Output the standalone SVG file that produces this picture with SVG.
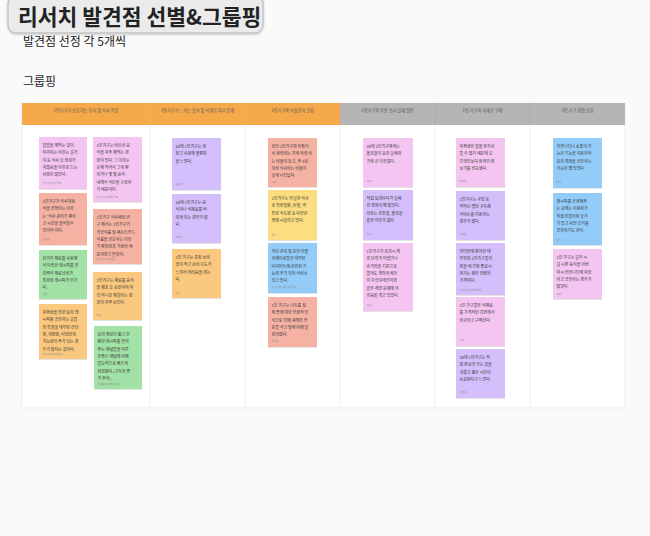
<svg xmlns="http://www.w3.org/2000/svg" width="650" height="536" viewBox="0 0 650 536">
<defs>
<filter id="sh" x="-10%" y="-10%" width="130%" height="130%"><feDropShadow dx="0" dy="0.6" stdDeviation="0.7" flood-color="#000" flood-opacity="0.18"/></filter>
<filter id="tsh" x="-5%" y="-20%" width="110%" height="150%"><feDropShadow dx="0" dy="1" stdDeviation="1.2" flood-color="#000" flood-opacity="0.2"/></filter>
<style>
text{font-family:"Noto Sans CJK KR","Noto Sans",sans-serif;}
.t{font-size:4px;fill:#333;}
.lb{font-size:2.6px;fill:#8a8a8a;}
.hd{font-size:4.2px;fill:#555;text-anchor:middle;}
.pink{fill:#f4c5f0;}
.salmon{fill:#f5b2a3;}
.green{fill:#a2e2a6;}
.orange{fill:#fac87f;}
.purple{fill:#d4befb;}
.yellow{fill:#fcdd80;}
.blue{fill:#94ccf9;}
.n rect{filter:url(#sh);}
</style>
</defs>
<rect x="0" y="0" width="650" height="536" fill="#fafafa"/>
<g id="title">
<rect x="8" y="-4" width="255" height="37" rx="8" fill="#ebebeb" stroke="#c4c4c4" stroke-width="1.5" filter="url(#tsh)"/>
<text x="18" y="25" font-size="21.5" font-weight="bold" fill="#222">리서치 발견점 선별&amp;그룹핑</text>
</g>
<text x="23" y="46" font-size="12" fill="#222">발견점 선정 각 5개씩</text>
<text x="23" y="86" font-size="12" fill="#222">그룹핑</text>

<g id="board">
<rect x="22" y="103" width="603" height="305" fill="#fff" stroke="#ececec" stroke-width="0.8"/>
<rect x="22" y="103" width="318" height="22" fill="#f5a94b"/>
<rect x="340" y="103" width="285" height="22" fill="#b5b5b5"/>
<g stroke="#ededed" stroke-width="0.8">
<line x1="150" y1="125" x2="150" y2="408"/>
<line x1="245" y1="125" x2="245" y2="408"/>
<line x1="340" y1="125" x2="340" y2="408"/>
<line x1="435" y1="125" x2="435" y2="408"/>
<line x1="530" y1="125" x2="530" y2="408"/>
</g>
<g stroke-width="0.6">
<line x1="150" y1="103" x2="150" y2="125" stroke="#f0b565"/>
<line x1="245" y1="103" x2="245" y2="125" stroke="#f0b565"/>
<line x1="435" y1="103" x2="435" y2="125" stroke="#a8a8a8"/>
<line x1="530" y1="103" x2="530" y2="125" stroke="#a8a8a8"/>
</g>
<text class="hd" x="86" y="112">1인가구가 선호하는 요리 및 식사 특징</text>
<text class="hd" x="197.5" y="112">1인가구가 느끼는 음식 및 식재료 처리 문제</text>
<text class="hd" x="292.5" y="112">1인가구의 식습관과 건강</text>
<text class="hd" x="387.5" y="112">1인가구의 주된 조리 실패 원인</text>
<text class="hd" x="482.5" y="112">1인 가구의 식재료 구매</text>
<text class="hd" x="577.5" y="112">1인 가구 경험 공유</text>
</g>

<g id="notes">
<g id="a1" class="n"><rect class="pink" x="39" y="137" width="48" height="52"/>
<text class="t" y="147"><tspan x="42.5">집밥을 해먹는 것이</tspan><tspan x="42.5" dy="7.3">여겨지는 이유는 설거</tspan><tspan x="42.5" dy="7.3">지 등 식사 후 정리가</tspan><tspan x="42.5" dy="7.3">귀찮음을 이유로 드는</tspan><tspan x="42.5" dy="7.3">사람이 많았다.</tspan></text>
<text class="lb" x="42.5" y="184">1인가구 연구결과</text></g>

<g id="a2" class="n"><rect class="salmon" x="39" y="193" width="48" height="52"/>
<text class="t" y="203"><tspan x="42.5">1인가구가 식사대용</tspan><tspan x="42.5" dy="7.3">식을 선택하는 이유</tspan><tspan x="42.5" dy="7.3">는 '식사 준비가 편하</tspan><tspan x="42.5" dy="7.3">고 시간을 절약할수</tspan><tspan x="42.5" dy="7.3">있어서'이다.</tspan></text>
<text class="lb" x="42.5" y="240">김다은</text></g>

<g id="a3" class="n"><rect class="green" x="39" y="250" width="48" height="49"/>
<text class="t" y="260"><tspan x="42.5">한가지 재료를 사용해</tspan><tspan x="42.5" dy="7.3">서 다양한 레시피를 알</tspan><tspan x="42.5" dy="7.3">려주어 재료낭비가</tspan><tspan x="42.5" dy="7.3">특화된 레시피가 인기</tspan><tspan x="42.5" dy="7.3">다.</tspan></text>
<text class="lb" x="42.5" y="295">유다</text></g>

<g id="a4" class="n"><rect class="orange" x="39" y="304" width="48" height="55"/>
<text class="t" y="314"><tspan x="42.5">자취생을 위한 요리 레</tspan><tspan x="42.5" dy="7.3">시피를 공유하는 곳들</tspan><tspan x="42.5" dy="7.3">의 특징을 대부분 간단</tspan><tspan x="42.5" dy="7.3">함, 저렴함, 다양한의</tspan><tspan x="42.5" dy="7.3">가능성이 주가 되는 경</tspan><tspan x="42.5" dy="7.3">우가 많다는 것이다.</tspan></text>
<text class="lb" x="42.5" y="355">자취생 레시피 분석</text></g>

<g id="b1" class="n"><rect class="pink" x="93" y="137" width="49" height="65"/>
<text class="t" y="147"><tspan x="96.5">1인가구는 비슷한 음</tspan><tspan x="96.5" dy="7.3">식을 자주 해먹는 경</tspan><tspan x="96.5" dy="7.3">향이 있다. 그 이유는</tspan><tspan x="96.5" dy="7.3">손에 익어서 그게 편</tspan><tspan x="96.5" dy="7.3">하거나 몇 몇 음식</tspan><tspan x="96.5" dy="7.3">내에서 식단을 구성하</tspan><tspan x="96.5" dy="7.3">기 때문이다.</tspan></text>
<text class="lb" x="96.5" y="198">1인가구 인터뷰 결과</text></g>

<g id="b2" class="n"><rect class="salmon" x="93" y="209" width="49" height="55"/>
<text class="t" y="219"><tspan x="96.5">1인가구 식사패턴 연</tspan><tspan x="96.5" dy="7.3">구 에서는 1인가구가</tspan><tspan x="96.5" dy="7.3">가공식품 및 패스트푸드</tspan><tspan x="96.5" dy="7.3">식품을 선호하는 이유</tspan><tspan x="96.5" dy="7.3">가 편의성과 가성비 때</tspan><tspan x="96.5" dy="7.3">문이라고 말한다.</tspan></text>
<text class="lb" x="96.5" y="260">1인가구 식사패턴</text></g>

<g id="b3" class="n"><rect class="orange" x="93" y="272" width="49" height="48"/>
<text class="t" y="282"><tspan x="96.5">1인가구는 재료를 음식</tspan><tspan x="96.5" dy="7.3">을 제조 후 소분하여 여</tspan><tspan x="96.5" dy="7.3">러 끼니로 해결하는 경</tspan><tspan x="96.5" dy="7.3">향이 자주 보인다.</tspan></text>
<text class="lb" x="96.5" y="316">박서</text></g>

<g id="b4" class="n"><rect class="green" x="94" y="326" width="48" height="63"/>
<text class="t" y="336"><tspan x="97.5">요리 영상이 짧고 간</tspan><tspan x="97.5" dy="7.3">편한 레시피를 알려</tspan><tspan x="97.5" dy="7.3">주는 채널들을 다른</tspan><tspan x="97.5" dy="7.3">유튜브 채널에 비해</tspan><tspan x="97.5" dy="7.3">압도적으로 빠르게</tspan><tspan x="97.5" dy="7.3">성장했다.(구독자 증</tspan><tspan x="97.5" dy="7.3">가 추이)</tspan></text>
<text class="lb" x="97.5" y="385">유튜브 요리채널 분석</text></g>

<g id="c1" class="n"><rect class="purple" x="172" y="138" width="49" height="52"/>
<text class="t" y="148"><tspan x="175.5">20대 1인가구는 냉</tspan><tspan x="175.5" dy="7.3">장고 사용에 불편함</tspan><tspan x="175.5" dy="7.3">을 느낀다.</tspan></text>
<text class="lb" x="175.5" y="185">김다은</text></g>

<g id="c2" class="n"><rect class="purple" x="172" y="194" width="49" height="49"/>
<text class="t" y="204"><tspan x="175.5">20대 1인가구는 음</tspan><tspan x="175.5" dy="7.3">식이나 식재료를 버</tspan><tspan x="175.5" dy="7.3">리게 되는 경우가 많</tspan><tspan x="175.5" dy="7.3">다.</tspan></text>
<text class="lb" x="175.5" y="238">이유나</text></g>

<g id="c3" class="n"><rect class="orange" x="172" y="249" width="49" height="49"/>
<text class="t" y="259"><tspan x="175.5">1인 가구는 포장 소비</tspan><tspan x="175.5" dy="7.3">량이 적고 소비 속도가</tspan><tspan x="175.5" dy="7.3">느려서 어려움을 겪는</tspan><tspan x="175.5" dy="7.3">다.</tspan></text>
<text class="lb" x="175.5" y="294">유나</text></g>

<g id="d1" class="n"><rect class="salmon" x="268" y="138" width="49" height="49"/>
<text class="t" y="148"><tspan x="271.5">성인 1인가구의 아침식</tspan><tspan x="271.5" dy="7.3">사 생략하는 가게 하락 하</tspan><tspan x="271.5" dy="7.3">는 비율이 높고, 주 5회</tspan><tspan x="271.5" dy="7.3">이상 식사하는 비율이</tspan><tspan x="271.5" dy="7.3">낮게 나타났다</tspan></text>
<text class="lb" x="271.5" y="183">고미</text></g>

<g id="d2" class="n"><rect class="yellow" x="268" y="190" width="49" height="50"/>
<text class="t" y="200"><tspan x="271.5">1인가구는 부실한 식사</tspan><tspan x="271.5" dy="7.3">로 위장질환, 빈혈, 역</tspan><tspan x="271.5" dy="7.3">류성 식도염 등 다양한</tspan><tspan x="271.5" dy="7.3">병에 시달리고 있다.</tspan></text>
<text class="lb" x="271.5" y="236">박정</text></g>

<g id="d3" class="n"><rect class="blue" x="268" y="243" width="49" height="50"/>
<text class="t" y="253"><tspan x="271.5">식단 관리 및 조언 어플</tspan><tspan x="271.5" dy="7.3">리케이션들은 대부분</tspan><tspan x="271.5" dy="7.3">다이어트에 관련된 기</tspan><tspan x="271.5" dy="7.3">능의 추가 되어 서비스</tspan><tspan x="271.5" dy="7.3">되고 있다.</tspan></text>
<text class="lb" x="271.5" y="288">식단관리 어플 조사결과</text></g>

<g id="d4" class="n"><rect class="salmon" x="268" y="297" width="49" height="50"/>
<text class="t" y="307"><tspan x="271.5">1인 가구는 나트륨 섭</tspan><tspan x="271.5" dy="7.3">취 증에 대한 부정적 인</tspan><tspan x="271.5" dy="7.3">식으로 인해 세계와 전</tspan><tspan x="271.5" dy="7.3">문들 국고 맞에 비해 달</tspan><tspan x="271.5" dy="7.3">성하였다.</tspan></text>
<text class="lb" x="271.5" y="342">유다은</text></g>

<g id="e1" class="n"><rect class="pink" x="363" y="138" width="50" height="49"/>
<text class="t" y="148"><tspan x="366.5">20대 1인가구에게는</tspan><tspan x="366.5" dy="7.3">불조절이 요리 실패의</tspan><tspan x="366.5" dy="7.3">가장 큰 이유였다.</tspan></text>
<text class="lb" x="366.5" y="182">고미</text></g>

<g id="e2" class="n"><rect class="purple" x="363" y="190" width="50" height="50"/>
<text class="t" y="200"><tspan x="366.5">직접 요리하다가 실패</tspan><tspan x="366.5" dy="7.3">한 경험이 매 많았다.</tspan><tspan x="366.5" dy="7.3">이유는 간조절, 불조절</tspan><tspan x="366.5" dy="7.3">같은 이유가 컸다.</tspan></text>
<text class="lb" x="366.5" y="235">유나</text></g>

<g id="e3" class="n"><rect class="pink" x="363" y="243" width="50" height="68"/>
<text class="t" y="253"><tspan x="366.5">1인가구가 조리시 계</tspan><tspan x="366.5" dy="7.3">량 단위가 어렵거나</tspan><tspan x="366.5" dy="7.3">숟가락을 기준으로</tspan><tspan x="366.5" dy="7.3">들어도 명확하게인</tspan><tspan x="366.5" dy="7.3">지 수학하게인지와</tspan><tspan x="366.5" dy="7.3">같은 계량 문제에 어</tspan><tspan x="366.5" dy="7.3">려움을 겪고 있었다.</tspan></text>
<text class="lb" x="366.5" y="306">고미</text></g>

<g id="f1" class="n"><rect class="pink" x="456" y="138" width="49" height="49"/>
<text class="t" y="148"><tspan x="459.5">자취생은 집을 온지사</tspan><tspan x="459.5" dy="7.3">들 수 없기 때문에 오</tspan><tspan x="459.5" dy="7.3">프라인보다 온라인 장</tspan><tspan x="459.5" dy="7.3">보기를 선호했다.</tspan></text>
<text class="lb" x="459.5" y="182">박서연</text></g>

<g id="f2" class="n"><rect class="purple" x="456" y="191" width="49" height="49"/>
<text class="t" y="201"><tspan x="459.5">1인가구는 쿠팡 등</tspan><tspan x="459.5" dy="7.3">커머스 앱의 구독제</tspan><tspan x="459.5" dy="7.3">서비스를 이용하는</tspan><tspan x="459.5" dy="7.3">경우가 많다.</tspan></text>
<text class="lb" x="459.5" y="235">유다은</text></g>

<g id="f3" class="n"><rect class="purple" x="456" y="243" width="49" height="52"/>
<text class="t" y="253"><tspan x="459.5">인터뷰에 참여한 대</tspan><tspan x="459.5" dy="7.3">부분의 1인가구들이</tspan><tspan x="459.5" dy="7.3">장을 때 가장 중요시</tspan><tspan x="459.5" dy="7.3">여기는 점은 저렴한</tspan><tspan x="459.5" dy="7.3">가격이다.</tspan></text>
<text class="lb" x="459.5" y="291">1인가구 인터뷰 결과</text></g>

<g id="f4" class="n"><rect class="pink" x="456" y="297" width="49" height="49"/>
<text class="t" y="307"><tspan x="459.5">1인 가구들은 식재료</tspan><tspan x="459.5" dy="7.3">를 가격적인 측면에서</tspan><tspan x="459.5" dy="7.3">비교하고 구매한다.</tspan></text>
<text class="lb" x="459.5" y="341">고미</text></g>

<g id="f5" class="n"><rect class="purple" x="456" y="349" width="49" height="49"/>
<text class="t" y="359"><tspan x="459.5">20대 1인가구는 직</tspan><tspan x="459.5" dy="7.3">접 장보러 가는 것을</tspan><tspan x="459.5" dy="7.3">귀찮고 짧은 시간이</tspan><tspan x="459.5" dy="7.3">소요된다고 느낀다.</tspan></text>
<text class="lb" x="459.5" y="393">이유나</text></g>

<g id="g1" class="n"><rect class="blue" x="553" y="138" width="49" height="50"/>
<text class="t" y="148"><tspan x="556.5">커뮤니티나 소통이 가</tspan><tspan x="556.5" dy="7.3">능한 기능을 이용하여</tspan><tspan x="556.5" dy="7.3">요리 경험을 공유하는</tspan><tspan x="556.5" dy="7.3">기능이 꽤 있었다.</tspan></text>
<text class="lb" x="556.5" y="183">박서</text></g>

<g id="g2" class="n"><rect class="blue" x="553" y="193" width="49" height="52"/>
<text class="t" y="203"><tspan x="556.5">레시피를 공개해주</tspan><tspan x="556.5" dy="7.3">는 곳에는 이용자가</tspan><tspan x="556.5" dy="7.3">직접 만들어본 후기</tspan><tspan x="556.5" dy="7.3">가 있고 사진 후기를</tspan><tspan x="556.5" dy="7.3">공유하기도 한다.</tspan></text>
<text class="lb" x="556.5" y="241">박서</text></g>

<g id="g3" class="n"><rect class="pink" x="553" y="249" width="49" height="50"/>
<text class="t" y="259"><tspan x="556.5">1인 가구는 일부 시</tspan><tspan x="556.5" dy="7.3">설 시판 음식을 이번</tspan><tspan x="556.5" dy="7.3">미시 커뮤니티에 자랑</tspan><tspan x="556.5" dy="7.3">하고 공유하는 경우가</tspan><tspan x="556.5" dy="7.3">많았다.</tspan></text>
<text class="lb" x="556.5" y="295">고미</text></g>
</g>
</svg>
